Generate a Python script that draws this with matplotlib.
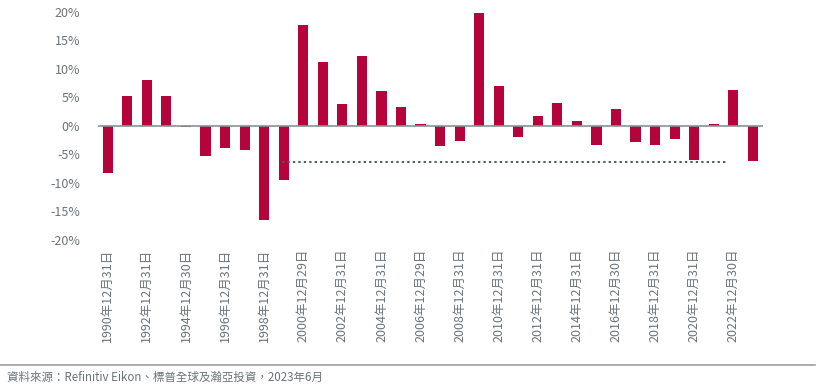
import matplotlib.pyplot as plt
import numpy as np

plt.rcParams['font.family'] = ['Noto Sans CJK TC', 'DejaVu Sans']
plt.rcParams['font.weight'] = 'light'

# 年度回報 (%)
years = list(range(1990, 2024))
returns = [-8.3, 5.3, 8.1, 5.3, -0.2, -5.2, -3.8, -4.3, -16.5, -9.5,
           17.7, 11.2, 3.9, 12.3, 6.1, 3.3, 0.3, -3.6, -2.6, 19.8,
           6.9, -2.0, 1.8, 4.0, 0.9, -3.4, 2.9, -2.8, -3.3, -2.3,
           -5.9, 0.4, 6.3, -6.1]
date_labels = ["1990年12月31日", "1992年12月31日", "1994年12月30日", "1996年12月31日",
               "1998年12月31日", "2000年12月29日", "2002年12月31日", "2004年12月31日",
               "2006年12月29日", "2008年12月31日", "2010年12月31日", "2012年12月31日",
               "2014年12月31日", "2016年12月30日", "2018年12月31日", "2020年12月31日",
               "2022年12月30日"]
avg_level = -6.25
source = "資料來源：Refinitiv Eikon、標普全球及瀚亞投資，2023年6月"

grey = "#6b7378"
red = "#b5033c"

fig = plt.figure(figsize=(8.2, 3.9), dpi=100)
ax = fig.add_axes([0.1195, 0.3846, 0.8105, 0.5854])

x = np.arange(len(years))
ax.bar(x, returns, width=0.52, color=red, zorder=2)
ax.axhline(0, color="#8a9296", lw=1.2, zorder=3)
ax.hlines(avg_level, 8.9, 31.7, colors="#4f5a5e", linestyles=(0, (1.2, 1.6)), lw=1.4, zorder=3)

ax.set_xlim(-0.5, 33.5)
ax.set_ylim(-20, 20)
ax.set_yticks(np.arange(-20, 21, 5))
ax.set_yticklabels([f"{v}%" for v in range(-20, 21, 5)])
ax.set_xticks(x[::2])
ax.set_xticklabels(date_labels, rotation=90, va="top", ha="center")
ax.tick_params(axis="both", length=0, colors=grey, labelsize=9)
ax.tick_params(axis="x", pad=6)
ax.tick_params(axis="y", pad=13)
for s in ax.spines.values():
    s.set_visible(False)

fig.add_artist(plt.Line2D([0.0, 0.994], [1 - 365 / 390, 1 - 365 / 390],
                          color="#9a9fa3", lw=1.2, transform=fig.transFigure))
fig.text(0.008, 1 - 377 / 390, source, color=grey, fontsize=8.3, va="center", ha="left")

fig.savefig("out.png", dpi=100)
